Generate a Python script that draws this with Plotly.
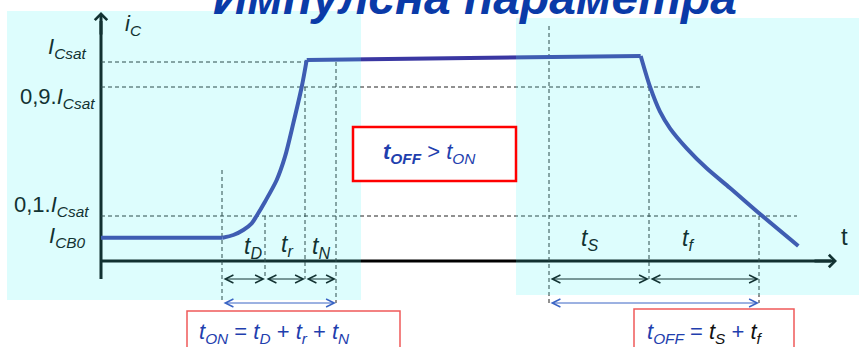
import plotly.graph_objects as go

# ---------------- data (diagram units: t along x, i_C along y) ----------------
# current levels
I_CB0 = 23
I_10 = 45
I_90 = 174
I_SAT = 199
# time markers
T_ON0, T_D, T_R, T_N = 121, 164, 204, 235
T_OFF0, T_S, T_F = 448, 548, 658

flat_t = [0, 121.7]
flat_i = [23.3, 23.3]
rise_t = [121.7, 132.3, 142.3, 150.7, 155.7, 164, 175.7, 184, 192.3, 200.7, 205.7]
rise_i = [23.3, 26, 31, 37.7, 45.3, 59.3, 81, 104.3, 137.7, 174, 201]
plat_t = [205.7, 539.7]
plat_i = [201, 205]
fall_t = [539.7, 549, 559, 569, 585.7, 605.7, 629, 659, 697.3]
fall_i = [205, 174.3, 149.3, 132.7, 112.7, 92.7, 73, 47, 15]

# dashed guide lines: (level, t_start, t_end)
h_guides = [(I_SAT, 0, T_R), (I_90, 0, 601), (I_10, 0, 696)]
# (time, i_top, i_bottom)
v_guides = [(T_ON0, 91, -42), (T_D, I_10, -18), (T_R, I_90, -18), (T_N, I_SAT, -42),
            (T_OFF0, 235, -42), (T_S, I_90, -18), (T_F, I_10, -42)]
dim_row = -18
tot_row = -42
dim_spans = [(T_ON0, T_D), (T_D, T_R), (T_R, T_N), (T_OFF0, T_S), (T_S, T_F)]
tot_spans = [(T_ON0, T_N), (T_OFF0, T_F)]

LINE = "#3a37a2"
DASH = "#222222"
TEAL = "#123232"
BLUE = "#1f3fae"
FONT = "Liberation Sans, Arial, sans-serif"

fig = go.Figure()

# axes (drawn under cyan overlay)
fig.add_trace(go.Scatter(x=[0, 0], y=[-18, 240], mode="lines",
                         line=dict(color="black", width=3), hoverinfo="skip"))
fig.add_trace(go.Scatter(x=[0, 730], y=[0, 0], mode="lines",
                         line=dict(color="black", width=3), hoverinfo="skip"))

# dashed guides
hx, hy = [], []
for lvl, a, b in h_guides:
    hx += [a, b, None]
    hy += [lvl, lvl, None]
for t, top, bot in v_guides:
    hx += [t, t, None]
    hy += [top, bot, None]
fig.add_trace(go.Scatter(x=hx, y=hy, mode="lines",
                         line=dict(color=DASH, width=1, dash="4px,3px"), hoverinfo="skip"))

# current curve
fig.add_trace(go.Scatter(x=flat_t, y=flat_i, mode="lines", line=dict(color=LINE, width=4)))
fig.add_trace(go.Scatter(x=rise_t, y=rise_i, mode="lines",
                         line=dict(color=LINE, width=4, shape="spline", smoothing=0.8)))
fig.add_trace(go.Scatter(x=plat_t, y=plat_i, mode="lines", line=dict(color=LINE, width=4)))
fig.add_trace(go.Scatter(x=fall_t, y=fall_i, mode="lines",
                         line=dict(color=LINE, width=4, shape="spline", smoothing=0.8)))

shapes = [
    # cyan overlays
    dict(type="rect", xref="x", yref="y", x0=-94, x1=260, y0=-39, y1=250,
         fillcolor="rgba(83,245,245,0.2)", line=dict(width=0), layer="above"),
    dict(type="rect", xref="x", yref="y", x0=415, x1=770, y0=-34, y1=243,
         fillcolor="rgba(83,245,245,0.2)", line=dict(width=0), layer="above"),
    # boxes
    dict(type="rect", xref="x", yref="y", x0=252, x1=415, y0=80, y1=134,
         fillcolor="white", line=dict(color="#ff0000", width=2.5), layer="above"),
    dict(type="rect", xref="x", yref="y", x0=86, x1=299, y0=-100, y1=-50,
         fillcolor="white", line=dict(color="#f05a5a", width=1.5), layer="above"),
    dict(type="rect", xref="x", yref="y", x0=533, x1=693, y0=-100, y1=-48,
         fillcolor="white", line=dict(color="#f05a5a", width=1.5), layer="above"),
]

ann = []


def label(x, y, text, size=22, color=TEAL, xanchor="center", yanchor="middle"):
    ann.append(dict(x=x, y=y, xref="x", yref="y", text=text, showarrow=False,
                    xanchor=xanchor, yanchor=yanchor,
                    font=dict(family=FONT, size=size, color=color)))


def arrow(x0, x1, y, color, head=5, size=1.6, width=1, both=True):
    d = dict(x=x1, y=y, ax=x0, ay=y, xref="x", yref="y", axref="x", ayref="y",
             text="", showarrow=True, arrowhead=head, arrowsize=size,
             arrowwidth=width, arrowcolor=color, standoff=0)
    if both:
        d.update(arrowside="end+start", startarrowhead=head, startarrowsize=size,
                 startstandoff=0)
    ann.append(d)


# axis heads
ann.append(dict(x=0, y=249, ax=0, ay=225, xref="x", yref="y", axref="x", ayref="y",
                text="", showarrow=True, arrowhead=4, arrowsize=0.8, arrowwidth=3,
                arrowcolor=TEAL, standoff=0))
ann.append(dict(x=736, y=0, ax=712, ay=0, xref="x", yref="y", axref="x", ayref="y",
                text="", showarrow=True, arrowhead=4, arrowsize=0.8, arrowwidth=3,
                arrowcolor=TEAL, standoff=0))

for a, b in dim_spans:
    arrow(a, b, dim_row, TEAL)
for a, b in tot_spans:
    arrow(a, b, tot_row, "#3a64c4")

# title (cut at top)
label(374, 235, "<b><i>Импулсна параметра</i></b>", size=48, color="#0a3aa8",
      yanchor="bottom")

# axis labels
label(32, 236, "<i>i<sub>C</sub></i>", size=22)
label(-13, 213, "<i>I<sub>Csat</sub></i>", size=22, xanchor="right")
label(-4, 163, "0,9.<i>I<sub>Csat</sub></i>", size=22, xanchor="right")
label(-10, 55, "0,1.<i>I<sub>Csat</sub></i>", size=22, xanchor="right")
label(-13, 24, "<i>I<sub>CB0</sub></i>", size=22, xanchor="right")

label(152, 14, "<i>t<sub>D</sub></i>", size=23)
label(186, 16, "<i>t<sub>r</sub></i>", size=23)
label(220, 14, "<i>t<sub>N</sub></i>", size=23)
label(488, 22, "<i>t<sub>S</sub></i>", size=23)
label(587, 22, "<i>t<sub>f</sub></i>", size=23)
label(743, 25, "t", size=24)

label(328, 108, "<b><i>t<sub>OFF</sub></i></b> &gt; <i>t<sub>ON</sub></i>", size=22,
      color=BLUE)
label(96, -72, "<i>t<sub>ON</sub></i> = <i>t<sub>D</sub></i> + <i>t<sub>r</sub></i> + "
               "<i>t<sub>N</sub></i>", size=22, color=BLUE, xanchor="left")
label(544, -72, "<i>t<sub>OFF</sub></i> = <span style='color:#111'><i>t<sub>S</sub></i></span>"
                " + <span style='color:#111'><i>t<sub>f</sub></i></span>", size=22,
      color=BLUE, xanchor="left")

fig.update_layout(
    width=859, height=347,
    margin=dict(l=0, r=0, t=0, b=0),
    paper_bgcolor="white", plot_bgcolor="white",
    showlegend=False,
    xaxis=dict(range=[-101, 758], visible=False, fixedrange=True),
    yaxis=dict(range=[-86, 261], visible=False, fixedrange=True),
    shapes=shapes,
    annotations=ann,
    font=dict(family=FONT),
)

fig.write_html("out.html", config={"displayModeBar": False},
               post_script="document.body.style.margin='0';document.body.style.overflow='hidden';")
